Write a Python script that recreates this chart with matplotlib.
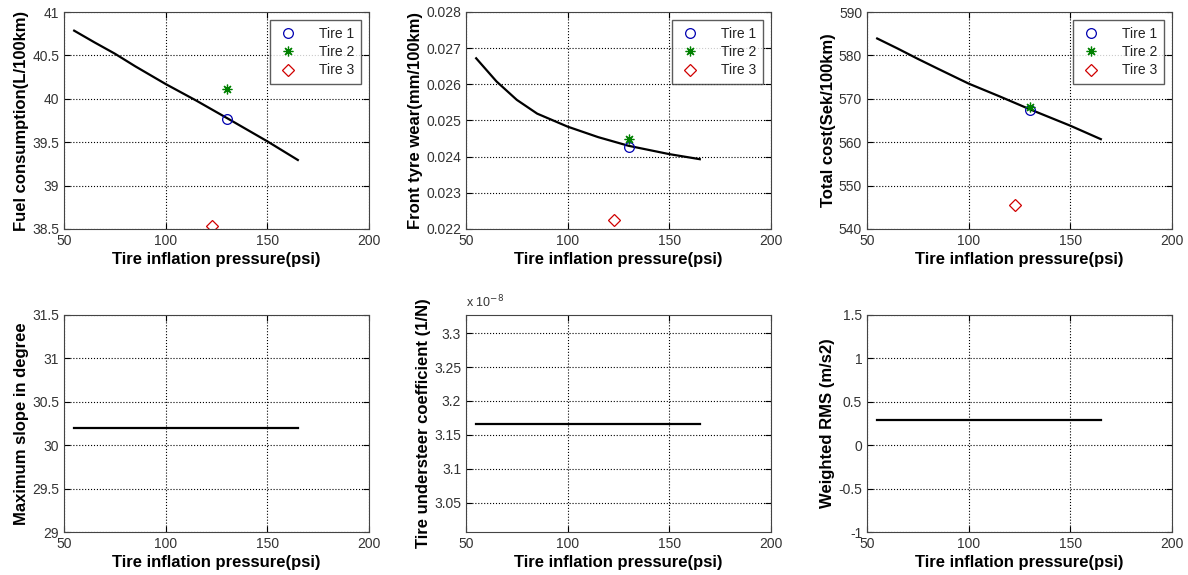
import matplotlib
matplotlib.use('Agg')
import matplotlib.pyplot as plt
from matplotlib.ticker import FuncFormatter

plt.rcParams['font.family'] = ['Liberation Sans', 'DejaVu Sans']

# pressure grid for the model curve (psi)
pressure = [55, 65, 75, 85, 100, 115, 130, 150, 165]

fuel = [40.785, 40.65, 40.52, 40.375, 40.17, 39.98, 39.78, 39.51, 39.295]
wear = [0.02672, 0.02608, 0.02557, 0.02519, 0.02483, 0.02454, 0.02430, 0.02407, 0.02393]
cost = [583.9, 581.6, 579.2, 576.9, 573.5, 570.6, 567.6, 563.8, 560.7]

slope = [30.2] * len(pressure)
understeer = [3.1667e-8] * len(pressure)
rms = [0.29] * len(pressure)

# measured tyres
tire_names = ['Tire 1', 'Tire 2', 'Tire 3']
tire_pressure = [130, 130, 123]
tire_fuel = [39.77, 40.11, 38.53]
tire_wear = [0.02428, 0.02450, 0.02225]
tire_cost = [567.4, 568.2, 545.6]

markers = ['o', (8, 2, 0), 'D']
mcolors = ['#0000b0', '#008000', '#d00000']
msizes = [7, 7, 6]

fig = plt.figure(figsize=(11.88, 5.75), dpi=100)

cols = [64 / 1188, 466 / 1188, 867 / 1188]
w = 305 / 1188
rows = [(575 - 229) / 575, (575 - 532) / 575]
h = 217 / 575

xlab = 'Tire inflation pressure(psi)'
gfmt = FuncFormatter(lambda v, _: f'{v:g}')


def style(ax, ylim, yticks):
    ax.set_xlim(50, 200)
    ax.set_xticks([50, 100, 150, 200])
    ax.set_ylim(*ylim)
    ax.set_yticks(yticks)
    ax.yaxis.set_major_formatter(gfmt)
    ax.grid(True, linestyle=':', color='black', linewidth=0.8)
    ax.tick_params(direction='in', top=True, right=True, labelsize=10,
                   labelcolor='#333333', length=4)
    ax.set_xlabel(xlab, fontsize=12, fontweight='bold', labelpad=3)
    for s in ax.spines.values():
        s.set_color('#444444')


# top row
top_sets = [
    (fuel, tire_fuel, 'Fuel consumption(L/100km)', (38.5, 41), [38.5, 39, 39.5, 40, 40.5, 41]),
    (wear, tire_wear, 'Front tyre wear(mm/100km)', (0.022, 0.028),
     [0.022, 0.023, 0.024, 0.025, 0.026, 0.027, 0.028]),
    (cost, tire_cost, 'Total cost(Sek/100km)', (540, 590), [540, 550, 560, 570, 580, 590]),
]
for i, (curve, pts, ylab, ylim, yt) in enumerate(top_sets):
    ax = fig.add_axes([cols[i], rows[0], w, h])
    ax.plot(pressure, curve, color='black', linewidth=1.6)
    for j in range(3):
        ax.plot(tire_pressure[j], pts[j], linestyle='none', marker=markers[j],
                markerfacecolor='none', markeredgecolor=mcolors[j],
                markersize=msizes[j], markeredgewidth=0.9, label=tire_names[j])
    style(ax, ylim, yt)
    if i == 1:
        ax.yaxis.set_major_formatter(FuncFormatter(lambda v, _: f'{v:.3f}'))
    ax.set_ylabel(ylab, fontsize=12, fontweight='bold', labelpad=2)
    leg = ax.legend(loc='upper right', fontsize=10, frameon=True, fancybox=False,
                    edgecolor='#333333', handlelength=1.8, handletextpad=1.3,
                    borderpad=0.45, labelspacing=0.32, borderaxespad=0.6)
    leg.get_frame().set_linewidth(1.0)
    for t in leg.get_texts():
        t.set_color('#222222')

# bottom row
ax = fig.add_axes([cols[0], rows[1], w, h])
ax.plot(pressure, slope, color='black', linewidth=1.6)
style(ax, (29, 31.5), [29, 29.5, 30, 30.5, 31, 31.5])
ax.set_ylabel('Maximum slope in degree', fontsize=12, fontweight='bold', labelpad=2)

ax = fig.add_axes([cols[1], rows[1], w, h])
ax.plot(pressure, understeer, color='black', linewidth=1.6)
style(ax, (3.0067e-8, 3.3267e-8), [3.05e-8, 3.1e-8, 3.15e-8, 3.2e-8, 3.25e-8, 3.3e-8])
ax.yaxis.set_major_formatter(FuncFormatter(lambda v, _: f'{v * 1e8:g}'))
ax.text(0.0, 1.02, r'x 10$^{-8}$', transform=ax.transAxes, fontsize=9,
        color='#333333', ha='left', va='bottom')
ax.set_ylabel('Tire understeer coefficient (1/N)', fontsize=12, fontweight='bold', labelpad=2)

ax = fig.add_axes([cols[2], rows[1], w, h])
ax.plot(pressure, rms, color='black', linewidth=1.6)
style(ax, (-1, 1.5), [-1, -0.5, 0, 0.5, 1, 1.5])
ax.set_ylabel('Weighted RMS (m/s2)', fontsize=12, fontweight='bold', labelpad=2)

fig.savefig('out.png', dpi=100)
